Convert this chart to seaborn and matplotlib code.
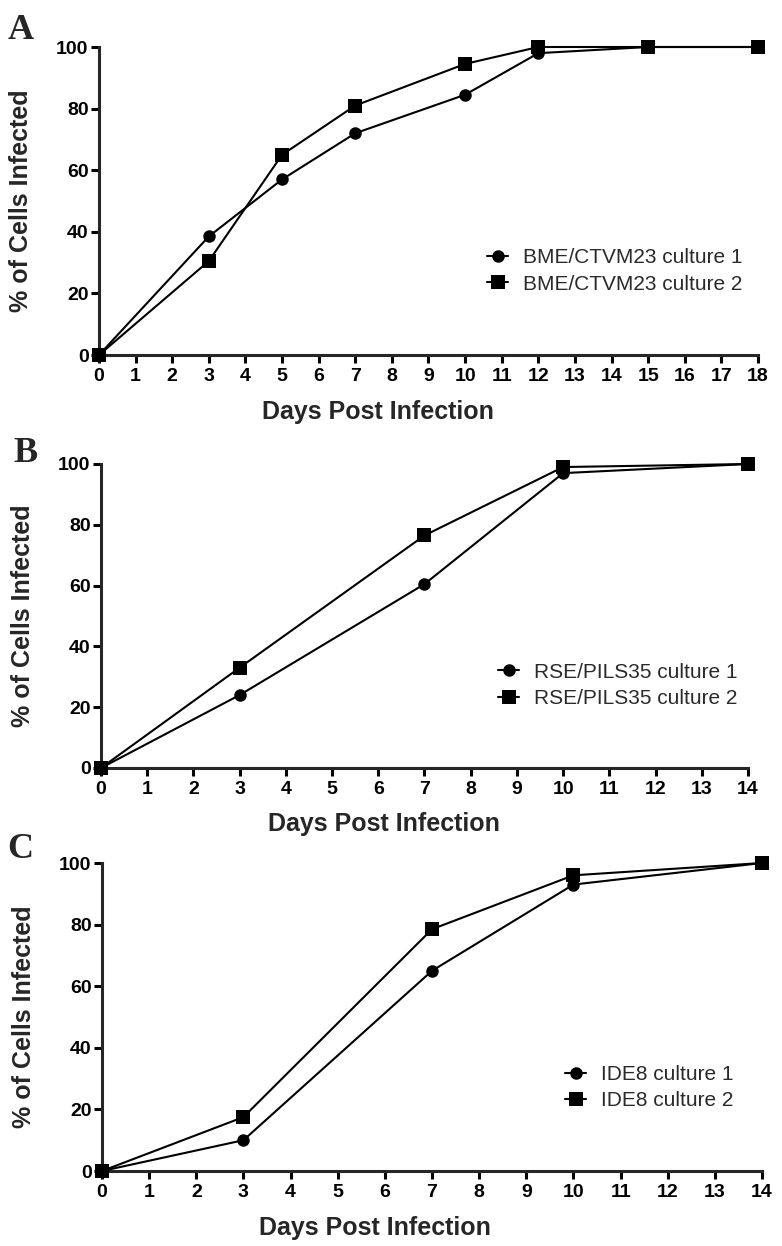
import matplotlib
matplotlib.use("Agg")
import matplotlib.pyplot as plt
import seaborn as sns
import pandas as pd

# values
days_a = [0, 3, 5, 7, 10, 12, 15, 18]
bme_c1 = [0, 38.5, 57, 72, 84.5, 98, 100, 100]
bme_c2 = [0, 30.5, 65, 81, 94.5, 100, 100, 100]

days_b = [0, 3, 7, 10, 14]
rse_c1 = [0, 24, 60.5, 97, 100]
rse_c2 = [0, 33, 76.5, 99, 100]

days_c = [0, 3, 7, 10, 14]
ide_c1 = [0, 10, 65, 93, 100]
ide_c2 = [0, 17.5, 78.5, 96, 100]

labels_a = ["BME/CTVM23 culture 1", "BME/CTVM23 culture 2"]
labels_b = ["RSE/PILS35 culture 1", "RSE/PILS35 culture 2"]
labels_c = ["IDE8 culture 1", "IDE8 culture 2"]

sns.set_style("ticks")
plt.rcParams['font.family'] = ['Liberation Sans', 'DejaVu Sans']

W, H = 782, 1246
fig = plt.figure(figsize=(W / 100, H / 100), dpi=100)

def px_axes(l, r, top, bot):
    return fig.add_axes([l / W, 1 - bot / H, (r - l) / W, (bot - top) / H])

panels = [
    # axes box (px), days, series, labels, xmax, letter pos, xlabel x, legend anchor
    ((99, 758, 47, 355), days_a, [bme_c1, bme_c2], labels_a, 18, ("A", 8, 39), 0.423, (0.589, 0.273)),
    ((101, 748, 464, 768), days_b, [rse_c1, rse_c2], labels_b, 14, ("B", 13, 462), 0.437, (0.614, 0.272)),
    ((102, 762, 863, 1171), days_c, [ide_c1, ide_c2], labels_c, 14, ("C", 7, 858), 0.414, (0.702, 0.271)),
]

for box, days, series, labels, xmax, letter, xlab_x, leg_pos in panels:
    ax = px_axes(*box)
    for vals, lab, mk, ms in zip(series, labels, ["o", "s"], [9, 9.5]):
        df = pd.DataFrame({"day": days, "pct": vals})
        sns.lineplot(data=df, x="day", y="pct", ax=ax, color="black", marker=mk,
                     markersize=ms, markeredgewidth=0, linewidth=1.5,
                     clip_on=False, zorder=3, label=lab)
    ax.set_xlim(0, xmax)
    ax.set_ylim(0, 100)
    ax.set_xticks(range(0, xmax + 1))
    ax.set_yticks(range(0, 101, 20))
    sns.despine(ax=ax)
    for s in ["left", "bottom"]:
        ax.spines[s].set_linewidth(2.2)
    ax.tick_params(width=2.2, length=6, labelsize=14, colors="black")
    ax.tick_params(axis="x", pad=3.5)
    ax.tick_params(axis="y", pad=1.5)
    for t in ax.get_xticklabels() + ax.get_yticklabels():
        t.set_fontweight("bold")
    ax.set_xlabel("Days Post Infection", fontsize=18, fontweight="bold")
    ax.set_ylabel("% of Cells Infected", fontsize=18, fontweight="bold")
    ax.xaxis.set_label_coords(xlab_x, -0.145)
    ax.yaxis.set_label_coords(-66 / (box[1] - box[0]), 0.5)
    leg = ax.legend(loc="center left", bbox_to_anchor=leg_pos, frameon=False,
                    fontsize=15, handlelength=1.0, handletextpad=0.7,
                    labelspacing=0.35, borderpad=0, borderaxespad=0,
                    markerscale=1.0)
    for t in leg.get_texts():
        t.set_color("#2a2a2a")
    fig.text(letter[1] / W, 1 - letter[2] / H, letter[0], fontsize=26,
             fontweight="bold", family="Liberation Serif", va="baseline", ha="left")

fig.savefig("out.png", dpi=100)
